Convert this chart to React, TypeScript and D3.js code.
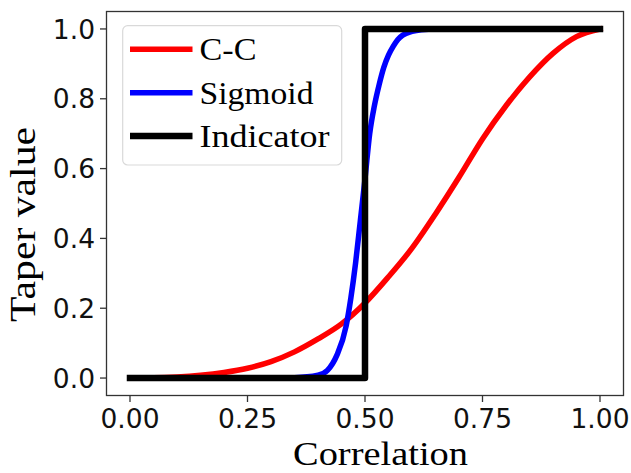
import React from "react";
import * as d3 from "d3";

// ---- data ----
const ccX = [0, 0.05, 0.1, 0.15, 0.2, 0.25, 0.3, 0.35, 0.4, 0.45, 0.5, 0.55, 0.6, 0.65, 0.7, 0.75, 0.8, 0.85, 0.9, 0.95, 1.0];
const ccY = [0, 0.0005, 0.003, 0.008, 0.016, 0.028, 0.047, 0.075, 0.112, 0.155, 0.215, 0.29, 0.372, 0.47, 0.575, 0.685, 0.78, 0.862, 0.93, 0.978, 1.0];

const sigX = [0, 0.3, 0.35, 0.4, 0.42, 0.44, 0.46, 0.47, 0.48, 0.49, 0.5, 0.51, 0.52, 0.53, 0.54, 0.55, 0.56, 0.57, 0.58, 0.6, 0.62, 0.65, 0.8, 1.0];
const sigY = [0, 0, 0.001, 0.008, 0.022, 0.065, 0.15, 0.23, 0.33, 0.45, 0.57, 0.7, 0.78, 0.84, 0.89, 0.925, 0.95, 0.97, 0.982, 0.993, 0.998, 1, 1, 1];

const indX = [0, 0.5, 0.5, 1.0];
const indY = [0, 0, 1, 1];

const seriesNames = ["C-C", "Sigmoid", "Indicator"];
const seriesColors = ["#ff0000", "#0000ff", "#000000"];

const xTicks = [0, 0.25, 0.5, 0.75, 1.0];
const xTickLabels = ["0.00", "0.25", "0.50", "0.75", "1.00"];
const yTicks = [0, 0.2, 0.4, 0.6, 0.8, 1.0];
const yTickLabels = ["0.0", "0.2", "0.4", "0.6", "0.8", "1.0"];

const xLabel = "Correlation";
const yLabel = "Taper value";

// ---- layout ----
const W = 631;
const H = 473;
const left = 106.5;
const right = 623.5;
const top = 11.5;
const bottom = 395.5;

export default function App() {
  const x = d3.scaleLinear().domain([-0.05, 1.05]).range([left, right]);
  const y = d3.scaleLinear().domain([-0.05, 1.05]).range([bottom, top]);

  const smooth = d3
    .line<[number, number]>()
    .x((d) => x(d[0]))
    .y((d) => y(d[1]))
    .curve(d3.curveMonotoneX);
  const straight = d3
    .line<[number, number]>()
    .x((d) => x(d[0]))
    .y((d) => y(d[1]));

  const ccPath = smooth(ccX.map((v, i) => [v, ccY[i]]))!;
  const sigPath = smooth(sigX.map((v, i) => [v, sigY[i]]))!;
  const indPath = straight(indX.map((v, i) => [v, indY[i]]))!;

  const tickFont = "'DejaVu Sans', sans-serif";
  const serif = "'Liberation Serif', 'Times New Roman', serif";
  const spine = "#333";

  const legendRows = [0, 1, 2];
  const legendTextLen = [57, 114, 130];

  return (
    <svg
      width={W}
      height={H}
      viewBox={`0 0 ${W} ${H}`}
      style={{ position: "absolute", left: 0, top: 0, background: "#fff" }}
    >
      <rect x={0} y={0} width={W} height={H} fill="#fff" />

      {/* curves */}
      <path d={ccPath} fill="none" stroke={seriesColors[0]} strokeWidth={5.5} strokeLinejoin="round" strokeLinecap="square" />
      <path d={sigPath} fill="none" stroke={seriesColors[1]} strokeWidth={5.5} strokeLinejoin="round" strokeLinecap="square" />
      <path d={indPath} fill="none" stroke={seriesColors[2]} strokeWidth={6.5} strokeLinejoin="round" strokeLinecap="square" />

      {/* spines */}
      <rect x={left} y={top} width={right - left} height={bottom - top} fill="none" stroke={spine} strokeWidth={1.3} />

      {/* x ticks */}
      {xTicks.map((t, i) => (
        <g key={"xt" + i}>
          <line x1={x(t)} x2={x(t)} y1={bottom} y2={bottom + 6.5} stroke={spine} strokeWidth={1.3} />
          <text x={x(t)} y={428} textAnchor="middle" fontFamily={tickFont} fontSize={26.5} fill="#111">
            {xTickLabels[i]}
          </text>
        </g>
      ))}

      {/* y ticks */}
      {yTicks.map((t, i) => (
        <g key={"yt" + i}>
          <line x1={left - 6.5} x2={left} y1={y(t)} y2={y(t)} stroke={spine} strokeWidth={1.3} />
          <text x={95} y={y(t) + 9.7} textAnchor="end" fontFamily={tickFont} fontSize={26.5} fill="#111">
            {yTickLabels[i]}
          </text>
        </g>
      ))}

      {/* axis labels */}
      <text x={293} y={465} fontFamily={serif} fontSize={34} textLength={175} lengthAdjust="spacingAndGlyphs" fill="#000">
        {xLabel}
      </text>
      <text
        transform={`translate(35, 322) rotate(-90)`}
        fontFamily={serif}
        fontSize={36}
        textLength={195}
        lengthAdjust="spacingAndGlyphs"
        fill="#000"
      >
        {yLabel}
      </text>

      {/* legend */}
      <rect x={122.7} y={25.7} width={219} height={139.3} rx={5} ry={5} fill="#fff" fillOpacity={0.8} stroke="#d9d9d9" strokeWidth={1.2} />
      {legendRows.map((i) => {
        const cy = 49.3 + i * 43.4;
        return (
          <g key={"lg" + i}>
            <line x1={130} x2={192.5} y1={cy} y2={cy} stroke={seriesColors[i]} strokeWidth={i === 2 ? 6.5 : 5.5} />
            <text x={199.5} y={cy + 11} fontFamily={serif} fontSize={32} textLength={legendTextLen[i]} lengthAdjust="spacingAndGlyphs" fill="#000">
              {seriesNames[i]}
            </text>
          </g>
        );
      })}
    </svg>
  );
}
